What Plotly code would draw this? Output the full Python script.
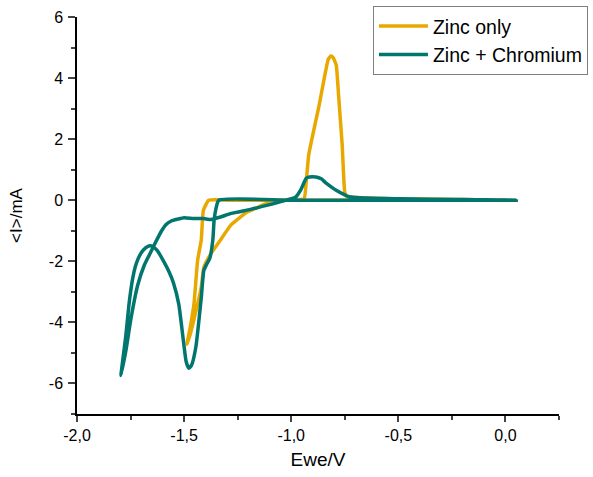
import plotly.graph_objects as go

# Zinc only (scan order)
zinc_x = [0.05, -0.5, -1.0, -1.30, -1.385, -1.41, -1.42, -1.437, -1.454, -1.47, -1.487,
          -1.472, -1.454, -1.42, -1.408, -1.375, -1.33, -1.28, -1.204, -1.11, -1.05, -0.99, -0.94,
          -0.93, -0.918, -0.87, -0.827, -0.815, -0.805, -0.79, -0.779, -0.762, -0.75, -0.74,
          -0.6, -0.3, 0.05]
zinc_y = [0.0, 0.0, 0.0, 0.0, 0.0, -0.33, -1.3, -1.97, -3.4, -4.1, -4.72,
          -4.4, -3.9, -2.85, -2.2, -1.75, -1.3, -0.8, -0.38, -0.1, 0.0, 0.02, 0.05,
          0.6, 1.5, 3.1, 4.62, 4.72, 4.68, 4.43, 3.44, 1.8, 0.26, 0.12,
          0.06, 0.03, 0.0]

# Zinc + Chromium (scan order)
zncr_x = [0.05, -0.5, -1.0, -1.338, -1.352, -1.36, -1.366, -1.38, -1.395, -1.408, -1.42, -1.445,
          -1.465, -1.478, -1.49, -1.50, -1.525, -1.55, -1.57, -1.594, -1.625, -1.645, -1.66,
          -1.68, -1.70, -1.715, -1.728, -1.74, -1.756, -1.772, -1.795,
          -1.77, -1.748, -1.717, -1.686, -1.663, -1.647, -1.624, -1.605, -1.585, -1.56, -1.53,
          -1.50, -1.454, -1.41, -1.375, -1.33, -1.28, -1.19, -1.11, -1.035, -0.98, -0.955, -0.93,
          -0.915, -0.885, -0.86, -0.84, -0.79, -0.73, -0.68, -0.5, -0.2, 0.05]
zncr_y = [0.0, 0.0, 0.0, 0.0, -0.3, -0.66, -1.3, -1.9, -2.1, -2.3, -3.2, -4.8,
          -5.4, -5.5, -5.3, -4.8, -3.4, -2.7, -2.35, -2.02, -1.65, -1.52, -1.49,
          -1.56, -1.72, -1.92, -2.18, -2.56, -3.33, -4.43, -5.74,
          -4.85, -3.87, -2.79, -2.13, -1.8, -1.57, -1.25, -1.0, -0.8, -0.68, -0.62,
          -0.57, -0.6, -0.6, -0.63, -0.55, -0.43, -0.3, -0.16, -0.02, 0.1, 0.35, 0.72,
          0.76, 0.76, 0.7, 0.58, 0.33, 0.12, 0.08, 0.05, 0.02, 0.0]

x_ticks = [-2.0, -1.5, -1.0, -0.5, 0.0]
x_labels = ["-2,0", "-1,5", "-1,0", "-0,5", "0,0"]
y_ticks = [-6, -4, -2, 0, 2, 4, 6]
y_labels = ["-6", "-4", "-2", "0", "2", "4", "6"]

YELLOW = "#E8A800"
TEAL = "#00766F"

fig = go.Figure()
fig.add_trace(go.Scatter(x=zinc_x, y=zinc_y, mode="lines", name="Zinc only",
                         line=dict(color=YELLOW, width=3.5, shape="spline", smoothing=0.4)))
fig.add_trace(go.Scatter(x=zncr_x, y=zncr_y, mode="lines", name="Zinc + Chromium",
                         line=dict(color=TEAL, width=3.5, shape="spline", smoothing=0.5)))

font_family = "Liberation Sans, Arial, sans-serif"
fig.update_layout(
    width=593, height=477,
    margin=dict(l=77, r=34, t=17, b=63, autoexpand=False),
    paper_bgcolor="white", plot_bgcolor="white",
    font=dict(family=font_family, color="black", size=16),
    showlegend=True,
    legend=dict(x=0.614, y=1.028, xanchor="left", yanchor="top",
                bordercolor="#808080", borderwidth=1, bgcolor="white",
                itemwidth=49,
                font=dict(size=19.5, family=font_family), tracegroupgap=0),
    xaxis=dict(range=[-2, 0.25], showline=True, linecolor="black", linewidth=1.5,
               showgrid=False, zeroline=False, ticks="outside", ticklen=6, tickwidth=1.5,
               tickvals=x_ticks, ticktext=x_labels, tickfont=dict(size=16),
               minor=dict(dtick=0.25, tick0=0, ticks="outside", ticklen=4, tickwidth=1.5, showgrid=False),
               title=dict(text="Ewe/V", font=dict(size=19), standoff=10)),
    yaxis=dict(range=[-7, 6], showline=True, linecolor="black", linewidth=1.5,
               showgrid=False, zeroline=False, ticks="outside", ticklen=7, tickwidth=1.5,
               tickvals=y_ticks, ticktext=y_labels, tickfont=dict(size=16),
               ticklabelstandoff=2,
               minor=dict(dtick=1, tick0=0, ticks="outside", ticklen=4, tickwidth=1.5, showgrid=False),
               title=dict(text="&lt;I&gt;/mA", font=dict(size=17), standoff=22)),
)

fig.write_html("out.html")
